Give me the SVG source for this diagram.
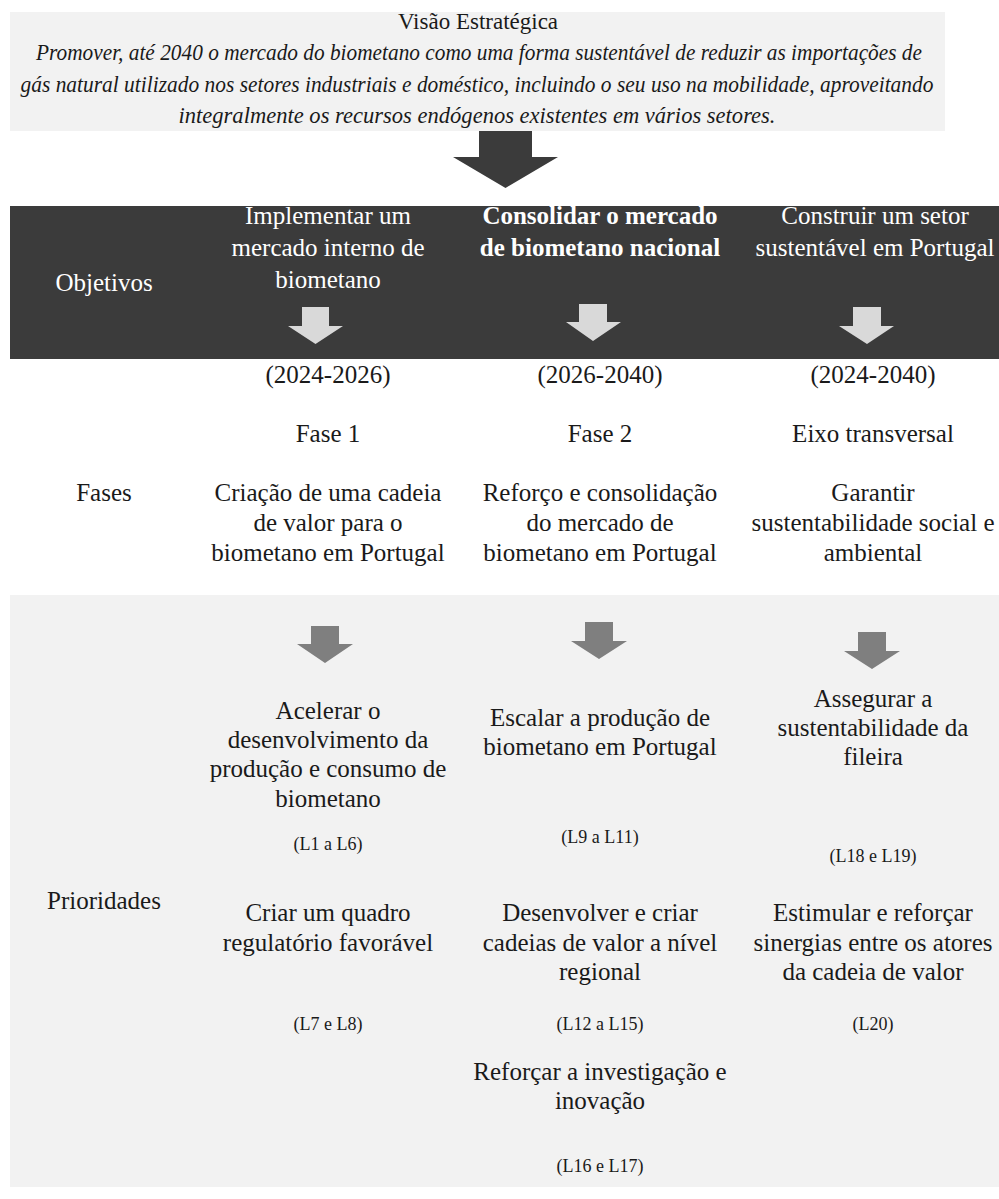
<svg xmlns="http://www.w3.org/2000/svg" width="999" height="1199" viewBox="0 0 999 1199">
<style>
  text { font-family: "Liberation Serif", "DejaVu Serif", serif; text-anchor: middle; fill: #1a1a1a; }
  .t { font-size: 25px; }
  .w { fill: #ffffff; }
  .b { font-weight: bold; }
  .s { font-size: 18px; }
  .it { font-style: italic; font-size: 23px; }
  .hd { font-size: 23px; }
  .la { fill: #d9d9d9; }
  .ga { fill: #7f7f7f; }
  .da { fill: #3b3b3b; }
</style>
<rect width="999" height="1199" fill="#ffffff"/>

<g id="vision">
  <rect x="10" y="12" width="935" height="119" fill="#f2f2f2"/>
  <text class="hd" x="478" y="29">Visão Estratégica</text>
  <text class="it" x="479" y="60" textLength="886" lengthAdjust="spacingAndGlyphs">Promover, até 2040 o mercado do biometano como uma forma sustentável de reduzir as importações de</text>
  <text class="it" x="477" y="92" textLength="913" lengthAdjust="spacingAndGlyphs">gás natural utilizado nos setores industriais e doméstico, incluindo o seu uso na mobilidade, aproveitando</text>
  <text class="it" x="477" y="123" textLength="597" lengthAdjust="spacingAndGlyphs">integralmente os recursos endógenos existentes em vários setores.</text>
</g>

<g id="objetivos">
  <rect x="10" y="206" width="989" height="153" fill="#3b3b3b"/>
  <text class="t w" x="104" y="291">Objetivos</text>
  <g id="obj1">
    <text class="t w" x="328" y="224">Implementar um</text>
    <text class="t w" x="328" y="256">mercado interno de</text>
    <text class="t w" x="328" y="288">biometano</text>
  </g>
  <g id="obj2">
    <text class="t w b" x="600" y="224">Consolidar o mercado</text>
    <text class="t w b" x="600" y="256">de biometano nacional</text>
  </g>
  <g id="obj3">
    <text class="t w" x="875" y="224">Construir um setor</text>
    <text class="t w" x="875" y="256">sustentável em Portugal</text>
  </g>
</g>

<g id="fases">
  <text class="t" x="104" y="501">Fases</text>
  <g id="fase1">
    <text class="t" x="328" y="383">(2024-2026)</text>
    <text class="t" x="328" y="442">Fase 1</text>
    <text class="t" x="328" y="501">Criação de uma cadeia</text>
    <text class="t" x="328" y="531">de valor para o</text>
    <text class="t" x="328" y="561">biometano em Portugal</text>
  </g>
  <g id="fase2">
    <text class="t" x="600" y="383">(2026-2040)</text>
    <text class="t" x="600" y="442">Fase 2</text>
    <text class="t" x="600" y="501">Reforço e consolidação</text>
    <text class="t" x="600" y="531">do mercado de</text>
    <text class="t" x="600" y="561">biometano em Portugal</text>
  </g>
  <g id="eixo">
    <text class="t" x="873" y="383">(2024-2040)</text>
    <text class="t" x="873" y="442">Eixo transversal</text>
    <text class="t" x="873" y="501">Garantir</text>
    <text class="t" x="873" y="531">sustentabilidade social e</text>
    <text class="t" x="873" y="561">ambiental</text>
  </g>
</g>

<g id="prioridades">
  <rect x="10" y="595" width="989" height="592" fill="#f2f2f2"/>
  <text class="t" x="104" y="909">Prioridades</text>
  <g id="p1">
    <text class="t" x="328" y="719">Acelerar o</text>
    <text class="t" x="328" y="748">desenvolvimento da</text>
    <text class="t" x="328" y="777">produção e consumo de</text>
    <text class="t" x="328" y="807">biometano</text>
    <text class="s" x="328" y="850">(L1 a L6)</text>
  </g>
  <g id="p2">
    <text class="t" x="328" y="921">Criar um quadro</text>
    <text class="t" x="328" y="951">regulatório favorável</text>
    <text class="s" x="328" y="1030">(L7 e L8)</text>
  </g>
  <g id="p3">
    <text class="t" x="600" y="726">Escalar a produção de</text>
    <text class="t" x="600" y="755">biometano em Portugal</text>
    <text class="s" x="600" y="843">(L9 a L11)</text>
  </g>
  <g id="p4">
    <text class="t" x="600" y="921">Desenvolver e criar</text>
    <text class="t" x="600" y="951">cadeias de valor a nível</text>
    <text class="t" x="600" y="980">regional</text>
    <text class="s" x="600" y="1030">(L12 a L15)</text>
  </g>
  <g id="p5">
    <text class="t" x="600" y="1080">Reforçar a investigação e</text>
    <text class="t" x="600" y="1109">inovação</text>
    <text class="s" x="600" y="1172">(L16 e L17)</text>
  </g>
  <g id="p6">
    <text class="t" x="873" y="707">Assegurar a</text>
    <text class="t" x="873" y="736">sustentabilidade da</text>
    <text class="t" x="873" y="765">fileira</text>
    <text class="s" x="873" y="862">(L18 e L19)</text>
  </g>
  <g id="p7">
    <text class="t" x="873" y="921">Estimular e reforçar</text>
    <text class="t" x="873" y="951">sinergias entre os atores</text>
    <text class="t" x="873" y="980">da cadeia de valor</text>
    <text class="s" x="873" y="1030">(L20)</text>
  </g>
</g>

<g id="connectors">
  <polygon class="da" points="479,131 532,131 532,157 558,157 505.5,188 453,157 479,157"/>
  <polygon class="la" points="302,307 329,307 329,326 343,326 315.5,344 288,326 302,326"/>
  <polygon class="la" points="579,304 607,304 607,322 621,322 593,341 566,322 579,322"/>
  <polygon class="la" points="853,307 881,307 881,326 894,326 867,344 839,326 853,326"/>
  <polygon class="ga" points="311,626 339,626 339,644 353,644 325,663 297,644 311,644"/>
  <polygon class="ga" points="585,622 613,622 613,641 627,641 599,659 571,641 585,641"/>
  <polygon class="ga" points="858,632 886,632 886,651 900,651 872,669 844,651 858,651"/>
</g>
</svg>
